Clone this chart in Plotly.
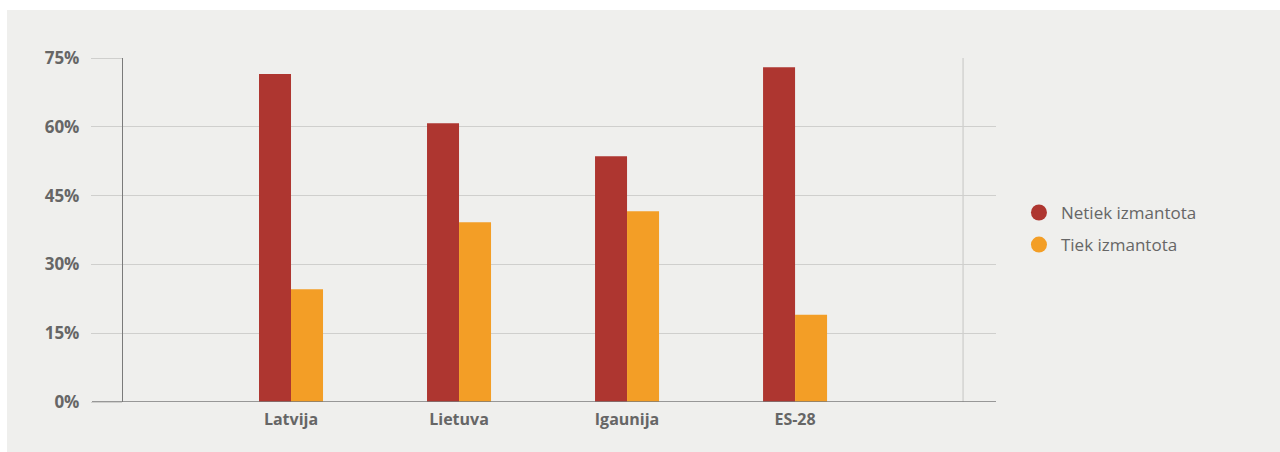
import plotly.graph_objects as go

categories = ["Latvija", "Lietuva", "Igaunija", "ES-28"]
netiek = [71.5, 60.8, 53.6, 73.0]
tiek = [24.6, 39.2, 41.6, 19.0]
series_names = ["Netiek izmantota", "Tiek izmantota"]
y_ticks = [0, 15, 30, 45, 60, 75]
y_tick_text = ["0%", "15%", "30%", "45%", "60%", "75%"]

RED = "#ae3630"
ORANGE = "#f39e26"
BG = "#efefed"
GRID = "#cfcfcd"
AXIS = "#7a7a7a"
TEXT = "#666666"

x_pos = list(range(len(categories)))

fig = go.Figure()
fig.add_trace(go.Bar(x=x_pos, y=netiek, name=series_names[0], marker_color=RED,
                     marker_line_width=0, showlegend=False, hoverinfo="y"))
fig.add_trace(go.Bar(x=x_pos, y=tiek, name=series_names[1], marker_color=ORANGE,
                     marker_line_width=0, showlegend=False, hoverinfo="y"))

# circular legend entries
for name, col in zip(series_names, [RED, ORANGE]):
    fig.add_trace(go.Scatter(x=[None], y=[None], mode="markers", name=name,
                             legendgroup=name,
                             marker=dict(symbol="circle", size=18, color=col)))

# grey panel with a thin white frame at the top and left
W, H = 873, 344
fig.add_shape(type="rect", xref="paper", yref="paper",
              x0=-116 / W, x1=1 + 284 / W, y0=-50 / H, y1=1 + 48 / H,
              fillcolor=BG, line_width=0, layer="below")

# right vertical rule
fig.add_shape(type="line", xref="x", yref="y", x0=4, x1=4, y0=0, y1=75,
              line=dict(color=GRID, width=1.3), layer="below")
# baseline
fig.add_shape(type="line", xref="paper", yref="y", x0=-31 / W, x1=1, y0=0, y1=0,
              line=dict(color=AXIS, width=1.3), layer="above")

fig.update_layout(
    width=1280, height=452,
    margin=dict(l=123, r=284, t=58, b=50),
    paper_bgcolor="white", plot_bgcolor=BG,
    barmode="group", bargap=0.619, bargroupgap=0,
    font=dict(family="Open Sans", color=TEXT),
    legend=dict(x=1.024, y=0.503, xanchor="left", yanchor="middle",
                font=dict(size=17, color=TEXT), bgcolor="rgba(0,0,0,0)",
                itemwidth=34, tracegroupgap=7),
    xaxis=dict(range=[-1, 4.196], tickvals=x_pos, ticktext=categories,
               showgrid=False, zeroline=False, showline=False, ticks="",
               ticklabelstandoff=6,
               tickfont=dict(size=16, weight="bold", color=TEXT)),
    yaxis=dict(range=[0, 75], tickvals=y_ticks, ticktext=y_tick_text,
               showgrid=True, gridcolor=GRID, gridwidth=1.3,
               zeroline=False, showline=True, linecolor=AXIS, linewidth=1.3,
               ticks="outside", ticklen=31, tickcolor=GRID, tickwidth=1.3,
               ticklabelstandoff=8,
               tickfont=dict(size=17, weight="bold", color=TEXT)),
)

fig.write_html("out.html")
